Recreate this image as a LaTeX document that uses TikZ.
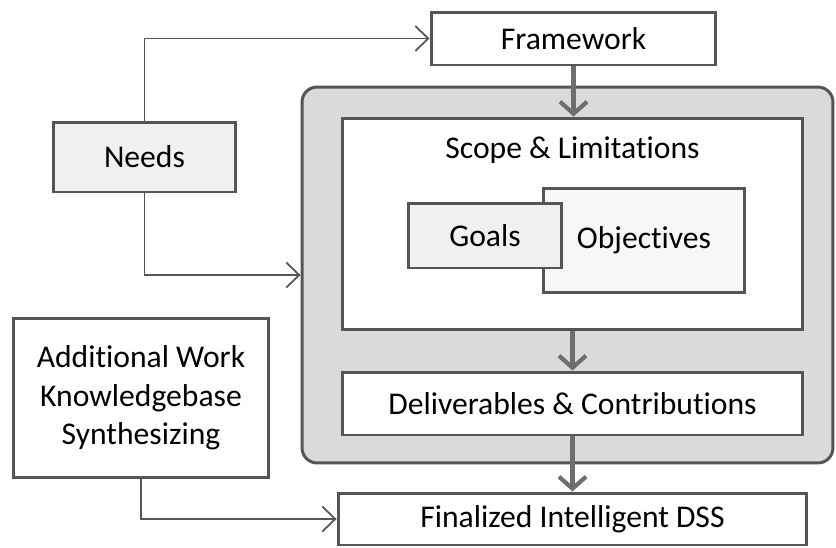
\documentclass[tikz,border=0pt]{standalone}
\usepackage{fontspec}
\setmainfont[Ligatures=NoCommon]{Carlito}
\usetikzlibrary{positioning, arrows.meta}
\definecolor{edgegray}{HTML}{555555}
\definecolor{arrowgray}{HTML}{6E6E6E}
\definecolor{framegray}{HTML}{DADADA}
\tikzset{
every node/.style={font=\fontsize{18}{22}\selectfont, text=black},
box/.style={draw=edgegray, line width=1.7pt, fill=white, inner sep=0pt, align=center},
shadedbox/.style={box, fill=black!6},
outerframe/.style={draw=edgegray, line width=1.7pt, fill=framegray, rounded corners=0.3cm},
thin/.style={draw=edgegray, line width=1pt, -{Straight Barb[length=2.6mm, width=5mm]}},
thick/.style={draw=arrowgray, line width=2.4pt, -{Straight Barb[length=2.4mm, width=5.4mm]}},
}

\begin{document}
\begin{tikzpicture}[x=0.02cm, y=-0.02cm]
    \useasboundingbox (0,0) rectangle (836,548);

    %gray frame round the middle part
    \node[outerframe, minimum width=10.62cm, minimum height=7.52cm] (frame) at (567.5,275) { };

    %top and bottom
    \node[box, minimum width=5.7cm, minimum height=1.06cm]  (fw)    at (573.5,38.5) {Framework};
    \node[box, minimum width=9.38cm, minimum height=1.04cm] (final) at (572.5,519)  {Finalized Intelligent DSS};

    %inside the frame
    \node[box, minimum width=9.22cm, minimum height=4.24cm] (scope) at (572.5,224) { };
    \node[below=0.4cm of scope.north, inner sep=0pt] (scopelbl) {Scope \& Limitations};
    \node[box, fill=black!3, minimum width=4.04cm, minimum height=2.1cm] (obj)   at (644,240.5) {Objectives};
    \node[shadedbox, minimum width=3.08cm, minimum height=1.3cm]      (goals) at (485,235.5) {Goals};
    \node[box, minimum width=9.22cm, minimum height=1.26cm] (deliv) at (572.5,403.5) {Deliverables \& Contributions};

    %left column
    \node[shadedbox, minimum width=3.66cm, minimum height=1.4cm] (needs) at (144.5,157) {Needs};
    \node[box, minimum width=5.12cm, minimum height=3.2cm]       (addl)  at (141,398)
        {Additional Work\\Knowledgebase\\Synthesizing};

    %thin connectors
    \draw[thin] (needs.north) |- (fw.west);
    \draw[thin] (needs.south) |- (frame.west);
    \draw[thin] (addl.south)  |- (final.west);

    %thick arrows down the middle
    \draw[thick] (fw.south)    -- (fw.south |- scope.north);
    \draw[thick] (scope.south) -- (deliv.north);
    \draw[thick] (deliv.south) -- (final.north);

\end{tikzpicture}
\end{document}
